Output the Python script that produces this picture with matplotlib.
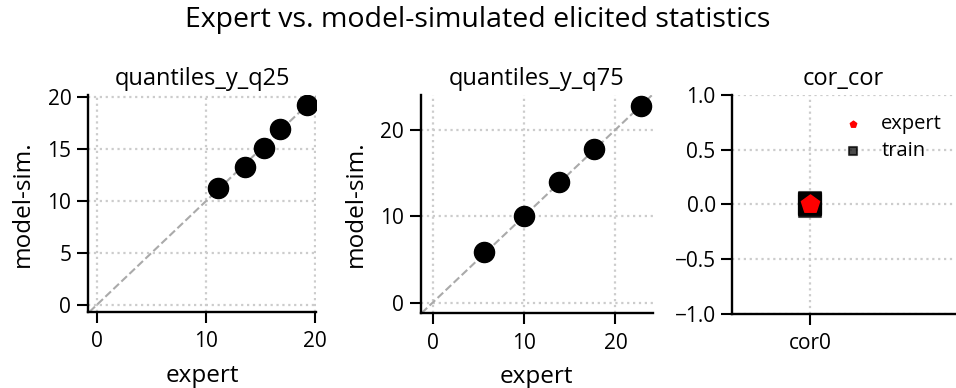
import matplotlib
matplotlib.use("Agg")
import matplotlib.pyplot as plt

# elicited quantiles: expert value vs. model-simulated value
q25_expert = [11.1, 13.6, 15.3, 16.8, 19.2]
q25_sim = [11.2, 13.3, 15.1, 16.9, 19.2]

q75_expert = [5.6, 10.0, 13.8, 17.7, 22.8]
q75_sim = [5.9, 10.0, 13.9, 17.8, 22.7]

# correlation statistic
cor_labels = ["cor0"]
cor_expert = [0.0]
cor_train = [-0.01, 0.0, 0.0, 0.01]

plt.rcParams["font.family"] = ["Open Sans", "DejaVu Sans"]
plt.rcParams["axes.unicode_minus"] = True

fig = plt.figure(figsize=(9.56, 3.88), dpi=100)
fig.suptitle("Expert vs. model-simulated elicited statistics", fontsize=20.5, y=0.985)

ax1 = fig.add_axes([0.092, 0.196, 0.239, 0.559])
ax2 = fig.add_axes([0.440, 0.193, 0.243, 0.562])
ax3 = fig.add_axes([0.766, 0.191, 0.233, 0.564])


def style(ax):
    ax.spines["top"].set_visible(False)
    ax.spines["right"].set_visible(False)
    for s in ("left", "bottom"):
        ax.spines[s].set_linewidth(1.7)
    ax.grid(True, linestyle=":", color="#cccccc", linewidth=1.6)
    ax.set_axisbelow(True)
    ax.tick_params(labelsize=15, width=1.5, length=8, pad=4)
    ax.tick_params(axis="x", pad=6)


for ax, ex, sim, title, lims, ticks in [
    (ax1, q25_expert, q25_sim, "quantiles_y_q25", ((-0.83, 20.1), (-0.7, 20.2)), [0, 5, 10, 15, 20]),
    (ax2, q75_expert, q75_sim, "quantiles_y_q75", ((-1.3, 24.1), (-1.2, 24.0)), [0, 10, 20]),
]:
    style(ax)
    ax.axline((0, 0), slope=1, color="#aaaaaa", linestyle="--", linewidth=1.5, zorder=1)
    ax.scatter(ex, sim, s=210, color="black", zorder=3)
    ax.set_xlim(*lims[0])
    ax.set_ylim(*lims[1])
    ax.set_xticks([0, 10, 20])
    ax.set_yticks(ticks)
    ax.set_title(title, fontsize=17, pad=7)
    ax.set_xlabel("expert", fontsize=17.5, labelpad=8)
    ax.set_ylabel("model-sim.", fontsize=17.5, labelpad=9)

style(ax3)
ax3.scatter([cor_labels[0]] * len(cor_train), cor_train, marker="s", s=250,
            color="black", alpha=0.7, edgecolor="black", linewidth=1.5,
            label="train", zorder=2)
ax3.scatter(cor_labels, cor_expert, marker="p", s=190, color="red",
            label="expert", zorder=3)
ax3.set_ylim(-1.0, 1.0)
ax3.set_yticks([-1.0, -0.5, 0.0, 0.5, 1.0])
ax3.set_xlim(-0.5, 0.93)
ax3.set_title("cor_cor", fontsize=17, pad=7)
handles, labels = ax3.get_legend_handles_labels()
ax3.legend(handles[::-1], labels[::-1], loc="upper left", frameon=False,
           fontsize=14.5, markerscale=0.35, handletextpad=0.4,
           labelspacing=0.35, bbox_to_anchor=(0.37, 0.995))

fig.savefig("out.png", dpi=100)
